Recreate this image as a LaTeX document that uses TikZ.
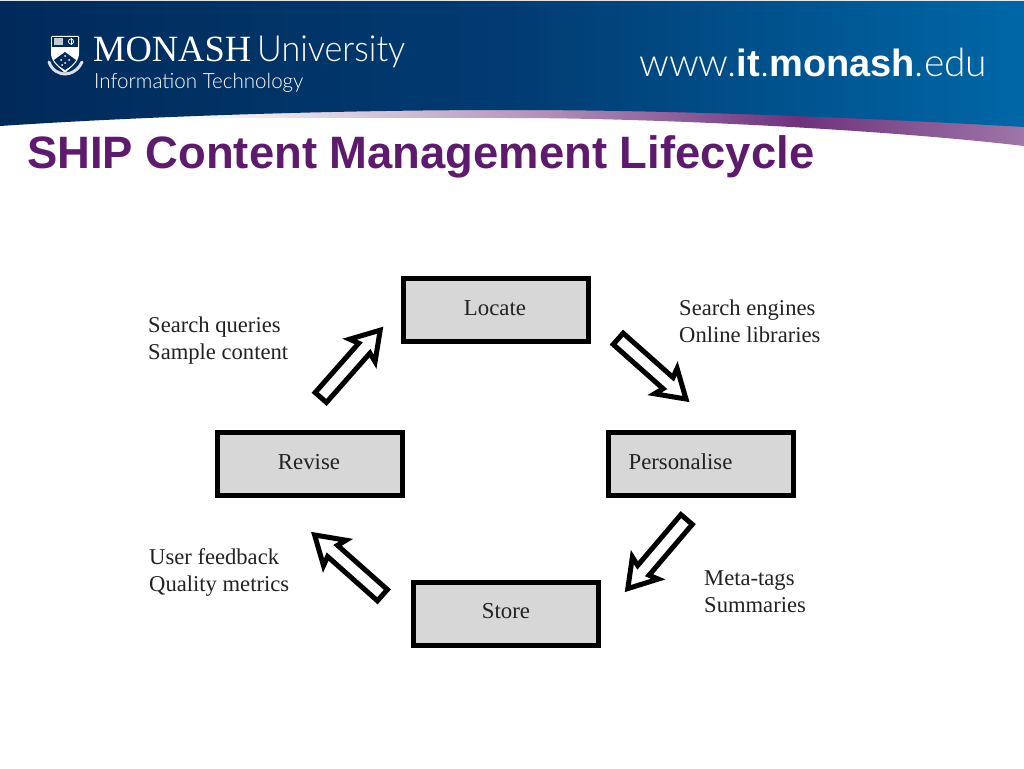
\documentclass[tikz,border=0pt]{standalone}
\usepackage{fontspec}
\setmainfont{Liberation Serif}
\newfontfamily\hsans{Liberation Sans}
\newfontfamily\hlight{Lato Light}
\usetikzlibrary{calc}
\definecolor{titlepurple}{HTML}{5E1B6E}
\definecolor{navyL}{HTML}{012A5A}
\definecolor{navyM}{HTML}{01396F}
\definecolor{blueR}{HTML}{0067A6}
\definecolor{boxgrey}{HTML}{D7D7D7}
\definecolor{inktext}{HTML}{222222}
\tikzset{
  stagebox/.style={draw=black,fill=boxgrey,line width=5pt,minimum width=185pt,minimum height=63pt,inner sep=0pt},
  stagelabel/.style={inner sep=0pt,anchor=center,font=\fontsize{22.8}{23}\selectfont,text=inktext},
  cycarrow/.style={draw=black,fill=white,line width=5pt,miter limit=10},
  note/.style={align=left,anchor=north west,inner sep=0pt,font=\fontsize{22.6}{27}\selectfont,text=inktext},
  brand/.style={text=white,inner sep=0pt,anchor=base west},
}
\newcommand{\blockarrow}[2]{%
  \draw[cycarrow]
    ($(#2)!24pt!(#1)!7.5pt!90:(#1)$) -- ($(#2)!27pt!(#1)!17pt!90:(#1)$) -- (#2)
    -- ($(#2)!27pt!(#1)!-17pt!90:(#1)$) -- ($(#2)!24pt!(#1)!-7.5pt!90:(#1)$)
    -- ($(#1)!7.5pt!90:(#2)$) -- ($(#1)!-7.5pt!90:(#2)$) -- cycle;}
\begin{document}
\begin{tikzpicture}[x=1pt,y=-1pt]
\useasboundingbox (0,0) rectangle (1024,768);
\fill[white] (0,0) rectangle (1024,768);
% swoosh
\begin{scope}
\clip (180,119) .. controls (300,117) and (420,118) .. (512,118) .. controls (650,118) and (880,129) .. (1024,146) -- (1024,100) -- (180,100) -- cycle;
\shade[left color=white,right color=titlepurple!45] (180,100) rectangle (520,150);
\shade[left color=titlepurple!45,right color=titlepurple!90] (520,100) rectangle (800,150);
\shade[left color=titlepurple!90,right color=titlepurple!60] (800,100) rectangle (1024,150);
\end{scope}
% header band
\shade[left color=navyL,right color=blueR,middle color=navyM!95!blueR]
  (0,1) -- (1024,1) -- (1024,127) .. controls (900,120) and (700,110) .. (510,110) .. controls (340,110) and (150,116) .. (0,126) -- cycle;
% crest
\fill[white,rounded corners=1pt] (51,36) -- (79,36) -- (79,54) .. controls (78,63) and (70,68) .. (65,73) .. controls (60,68) and (52,63) .. (51,54) -- cycle;
\fill[navyL] (52,37) rectangle (78,47);
\fill[white!75!navyL] (54,38) rectangle (63,45);
\draw[white,line width=.8pt] (71,41.5) circle (2.6);
\draw[white,line width=.6pt] (71,38) -- (71,45);
\fill[navyL] (65,52) -- (76,60) .. controls (74,64) and (70,67) .. (65,70) .. controls (60,67) and (56,64) .. (54,60) -- cycle;
\foreach \px/\py in {65/56,61/60,69/60,65/63,62/65}{\fill[white] (\px,\py) circle (1);}
\draw[white!85!navyL,line width=3pt,line cap=round] (49,62) .. controls (52,71) and (60,74) .. (65,74) .. controls (70,74) and (78,71) .. (82,62);
% brand text
\node[brand,font=\fontsize{37}{37}\selectfont] (monash) at (93,62) {\scalebox{.985}[1]{MONASH}};
\node[brand,font=\hlight\fontsize{36}{37}\selectfont] (univ) at (257,62) {\scalebox{.948}[1]{University}};
\node[brand,font=\hlight\fontsize{21}{23}\selectfont] (infotech) at (94,88) {\scalebox{.98}[1]{Information Technology}};
\node[brand,font=\hlight\fontsize{39}{39}\selectfont] (web) at (639,76) {www.{\hsans\bfseries\fontsize{38}{38}\selectfont it}.{\hsans\bfseries\fontsize{38}{38}\selectfont monash}.edu};
% title
\node[inner sep=0pt,anchor=base west,text=titlepurple,font=\hsans\bfseries\fontsize{45.4}{46}\selectfont] (title) at (27,168) {SHIP Content Management Lifecycle};
% boxes
\node[stagebox] (locate) at (496,309.5) {};
\node[stagelabel] (locatetext) at (495,308) {Locate};
\node[stagebox] (revise) at (309.5,464) {};
\node[stagelabel] (revisetext) at (309,462) {Revise};
\node[stagebox] (personalise) at (701,464) {};
\node[stagelabel] (personalisetext) at (680.5,462) {Personalise};
\node[stagebox] (store) at (506,614) {};
\node[stagelabel] (storetext) at (506,611) {Store};
% arrows
\coordinate (a1t) at (320.8,397.5); \coordinate (a1h) at (380.2,330.2);
\coordinate (a2t) at (618.2,338.8); \coordinate (a2h) at (686,399);
\coordinate (a3t) at (686.6,519.5); \coordinate (a3h) at (627.8,588.6);
\coordinate (a4t) at (382.4,595.2); \coordinate (a4h) at (314.6,535);
\blockarrow{a1t}{a1h}
\blockarrow{a2t}{a2h}
\blockarrow{a3t}{a3h}
\blockarrow{a4t}{a4h}
% notes
\node[note] (n1) at (148,317) {Search queries\\Sample content};
\node[note] (n2) at (679,300) {Search engines\\Online libraries};
\node[note] (n3) at (704,570.5) {Meta-tags\\Summaries};
\node[note] (n4) at (149,548) {User feedback\\Quality metrics};
\end{tikzpicture}
\end{document}
